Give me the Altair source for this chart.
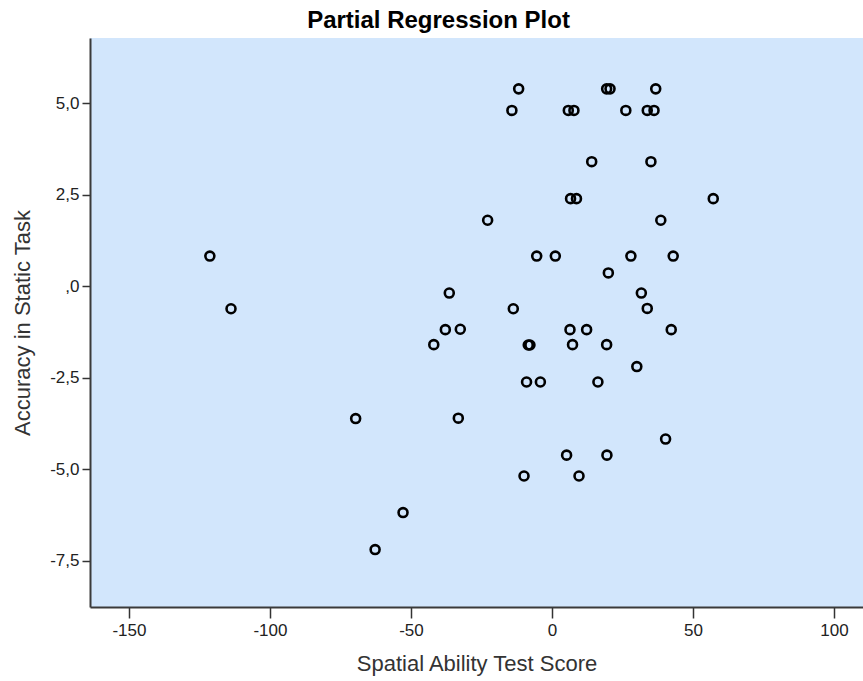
import altair as alt
import pandas as pd

# Partial regression residuals
spatial_score = [
    -121.3, -113.8, -69.6, -52.8, -62.7, -33.2, -41.9, -37.8, -32.5, -36.4,
    -22.8, -11.8, -14.2, -13.7, -5.4, 1.2, -8.4, -7.8, -9.0, -4.1,
    -9.9, 9.6, 5.2, 19.5, 40.3, 16.3, 30.1, 7.3, 19.4, 6.4,
    12.3, 42.3, 31.7, 33.8, 20.0, 28.0, 43.0, 38.6, 57.2, 6.6,
    8.7, 14.1, 35.1, 5.8, 7.8, 26.2, 33.8, 36.2, 19.4, 20.6,
    36.8,
]
accuracy_static = [
    0.82, -0.62, -3.62, -6.19, -7.20, -3.61, -1.60, -1.19, -1.18, -0.19,
    1.80, 5.39, 4.80, -0.62, 0.82, 0.82, -1.61, -1.61, -2.62, -2.62,
    -5.19, -5.19, -4.62, -4.62, -4.18, -2.62, -2.20, -1.60, -1.60, -1.19,
    -1.19, -1.19, -0.19, -0.61, 0.36, 0.82, 0.82, 1.80, 2.39, 2.39,
    2.39, 3.40, 3.40, 4.80, 4.80, 4.80, 4.80, 4.80, 5.39, 5.39,
    5.39,
]
x_ticks = [-150, -100, -50, 0, 50, 100]
y_ticks = [-7.5, -5.0, -2.5, 0.0, 2.5, 5.0]

df = pd.DataFrame({"x": spatial_score, "y": accuracy_static})

FONT = "Liberation Sans"

x_label_expr = "(datum.value < 0 ? '-' : '') + format(abs(datum.value), 'd')"
y_label_expr = ("datum.value == 0 ? ',0' : (datum.value < 0 ? '-' : '') + "
                "replace(format(abs(datum.value), '.1f'), '.', ',')")

chart = (
    alt.Chart(df)
    .mark_point(shape="circle", filled=False, color="black", size=80, strokeWidth=2.6, opacity=1)
    .encode(
        x=alt.X(
            "x:Q",
            scale=alt.Scale(domain=[-163.8, 110.3], nice=False, zero=False),
            axis=alt.Axis(
                values=x_ticks,
                labelExpr=x_label_expr,
                title="Spatial Ability Test Score",
                grid=False,
                tickSize=11,
                tickWidth=1.5,
                tickColor="#333333",
                domainColor="#3a3a3a",
                domainWidth=2,
                labelFont=FONT,
                labelFontSize=17,
                labelColor="#222222",
                labelPadding=4,
                titleFont=FONT,
                titleFontSize=22,
                titleFontWeight="normal",
                titleColor="#333333",
                titlePadding=15,
            ),
        ),
        y=alt.Y(
            "y:Q",
            scale=alt.Scale(domain=[-8.77, 6.78], nice=False, zero=False),
            axis=alt.Axis(
                values=y_ticks,
                labelExpr=y_label_expr,
                title="Accuracy in Static Task",
                grid=False,
                tickSize=8,
                tickWidth=1.5,
                tickColor="#333333",
                domainColor="#3a3a3a",
                domainWidth=2,
                labelFont=FONT,
                labelFontSize=17,
                labelColor="#222222",
                labelPadding=3,
                titleFont=FONT,
                titleFontSize=22,
                titleFontWeight="normal",
                titleColor="#333333",
                titlePadding=15,
            ),
        ),
    )
    .properties(
        width=773,
        height=569,
        title=alt.TitleParams(
            "Partial Regression Plot",
            font=FONT,
            fontSize=24,
            fontWeight="bold",
            color="black",
            anchor="middle",
            dx=-38,
            offset=5,
        ),
        autosize=alt.AutoSizeParams(type="none"),
        padding={"left": 90, "top": 38, "right": 0, "bottom": 74},
    )
    .configure(background="white")
    .configure_view(fill="#d2e6fc", stroke=None)
)

chart.save("out.html", embed_options={"renderer": "svg", "actions": False})
